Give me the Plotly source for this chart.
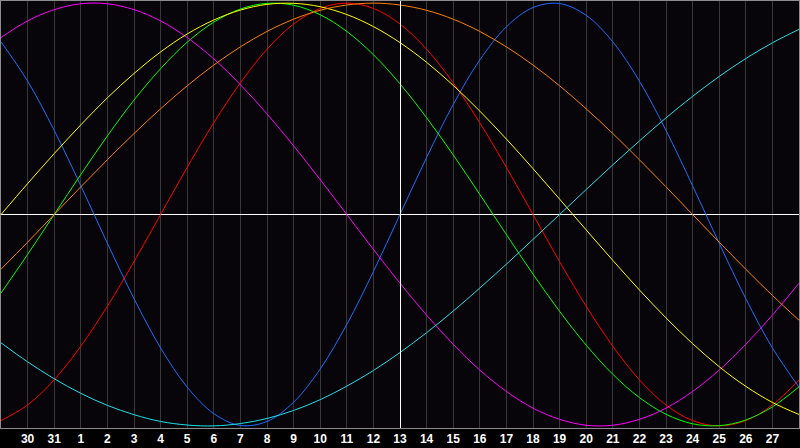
import plotly.graph_objects as go

# Biorhythm chart: 31 days (one per day)
day_index = list(range(31))
day_labels = ["29", "30", "31"] + [str(i) for i in range(1, 29)]
today_index = 15

physical_23 = [0.817, 0.631, 0.398, 0.136, -0.136, -0.398, -0.631, -0.817, -0.942, -0.998, -0.979,
               -0.888, -0.731, -0.520, -0.270, 0.0, 0.270, 0.520, 0.731, 0.888, 0.979, 0.998, 0.942,
               0.817, 0.631, 0.398, 0.136, -0.136, -0.398, -0.631, -0.817]
emotional_28 = [-0.975, -0.901, -0.782, -0.623, -0.434, -0.223, 0.0, 0.223, 0.434, 0.623, 0.782,
                0.901, 0.975, 1.0, 0.975, 0.901, 0.782, 0.623, 0.434, 0.223, 0.0, -0.223, -0.434,
                -0.623, -0.782, -0.901, -0.975, -1.0, -0.975, -0.901, -0.782]
intellectual_33 = [-0.372, -0.189, -0.0, 0.189, 0.372, 0.541, 0.69, 0.815, 0.91, 0.972, 0.999, 0.99,
                   0.945, 0.866, 0.756, 0.618, 0.458, 0.282, 0.095, -0.095, -0.282, -0.458, -0.618,
                   -0.756, -0.866, -0.945, -0.99, -0.999, -0.972, -0.91, -0.815]
intuitive_38 = [0.837, 0.916, 0.969, 0.997, 0.997, 0.969, 0.916, 0.837, 0.736, 0.614, 0.476, 0.325,
                0.165, -0.0, -0.165, -0.325, -0.476, -0.614, -0.736, -0.837, -0.916, -0.969, -0.997,
                -0.997, -0.969, -0.916, -0.837, -0.736, -0.614, -0.476, -0.325]
aesthetic_43 = [-0.0, 0.146, 0.288, 0.424, 0.552, 0.667, 0.769, 0.854, 0.92, 0.967, 0.994, 0.999,
                0.983, 0.946, 0.889, 0.813, 0.72, 0.611, 0.489, 0.357, 0.217, 0.073, -0.073, -0.217,
                -0.357, -0.489, -0.611, -0.72, -0.813, -0.889, -0.946]
awareness_48 = [-0.259, -0.131, 0.0, 0.131, 0.259, 0.383, 0.5, 0.609, 0.707, 0.793, 0.866, 0.924,
                0.966, 0.991, 1.0, 0.991, 0.966, 0.924, 0.866, 0.793, 0.707, 0.609, 0.5, 0.383,
                0.259, 0.131, 0.0, -0.131, -0.259, -0.383, -0.5]
spiritual_53 = [-0.607, -0.697, -0.777, -0.846, -0.903, -0.947, -0.979, -0.996, -1.0, -0.989, -0.965,
                -0.927, -0.876, -0.812, -0.738, -0.653, -0.559, -0.457, -0.348, -0.235, -0.118, -0.0,
                0.118, 0.235, 0.348, 0.457, 0.559, 0.653, 0.738, 0.812, 0.876]

series = [physical_23, emotional_28, intellectual_33, intuitive_38, aesthetic_43, awareness_48, spiritual_53]
colors = ["#1e6eff", "#ff0000", "#00ff00", "#ff00ff", "#ffff00", "#ff8000", "#20e0e8"]

W, H = 800, 448
ML, MR, MT, MB = 1, 1, 1, 20
plot_w = W - ML - MR
half_px = 0.5 * 30 / plot_w  # keep the 1px "today" line crisp

fig = go.Figure()
for v, c in zip(series, colors):
    fig.add_trace(go.Scatter(x=day_index, y=v, mode="lines",
                             line=dict(color=c, width=1, shape="spline", smoothing=1.0),
                             hoverinfo="skip"))

fig.update_layout(
    width=W, height=H, margin=dict(l=ML, r=MR, t=MT, b=MB),
    paper_bgcolor="#000000", plot_bgcolor="#070509", showlegend=False,
    xaxis=dict(range=[0, 30], tickvals=day_index[1:30], ticktext=day_labels[1:30],
               showgrid=True, gridcolor="#383838", gridwidth=1, zeroline=False,
               showline=True, mirror=True, linecolor="#8c8c8c", linewidth=1,
               tickfont=dict(color="#ffffff", size=12, family="Liberation Sans", weight="bold"),
               ticks=""),
    yaxis=dict(range=[-1.01, 1.01], showgrid=False, showticklabels=False,
               zeroline=True, zerolinecolor="#ffffff", zerolinewidth=1,
               showline=True, mirror=True, linecolor="#8c8c8c", linewidth=1, ticks=""),
    shapes=[
        dict(type="line", xref="x", yref="paper", x0=today_index + half_px, x1=today_index + half_px,
             y0=0, y1=1, line=dict(color="#ffffff", width=1), layer="above"),
    ],
)
fig.write_html("out.html", config={"displayModeBar": False},
               post_script="document.body.style.margin='0';document.body.style.overflow='hidden';")
